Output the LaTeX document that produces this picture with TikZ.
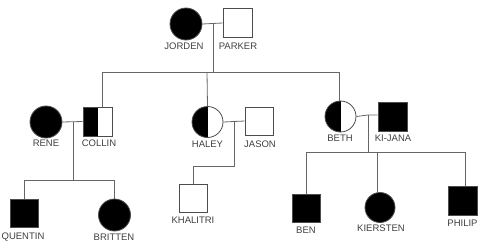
\documentclass[tikz,border=0pt]{standalone}
\usepackage{fontspec}
\setmainfont{Liberation Sans}
\begin{document}
\begin{tikzpicture}[x=1pt,y=-1pt,
  conn/.style={draw=black!60, line width=0.8pt},
  male/.style={draw=black!70, line width=0.8pt, rectangle, minimum size=#1, inner sep=0pt},
  male/.default=28pt,
  female/.style={draw=black!70, line width=0.8pt, circle, minimum size=#1, inner sep=0pt},
  female/.default=31pt,
  aff/.style={fill=black},
  half/.style={path picture={\fill[black] (path picture bounding box.south west) rectangle (path picture bounding box.north);}},
  lbl/.style={font=\fontsize{9.5}{10}\selectfont, text=black!75, inner sep=0pt}
]
\useasboundingbox (0,0) rectangle (488,249);
% generation I
\node[female=32pt, aff] (jorden) at (186,24) {};
\node[male=29pt] (parker) at (237.5,23) {};
\node[lbl] (jordenL) at (184,46) {JORDEN};
\node[lbl] (parkerL) at (238,46) {PARKER};
% generation II
\node[female=32pt, aff] (rene) at (46,122) {};
\node[male=29pt, half] (collin) at (97.5,121.5) {};
\node[female, half] (haley) at (207.5,122) {};
\node[male=28pt] (jason) at (259,121) {};
\node[female, half] (beth) at (340.5,116.5) {};
\node[male=29pt, aff] (kijana) at (392.5,116.5) {};
\node[lbl] (reneL) at (46,143) {RENE};
\node[lbl] (collinL) at (99,143) {COLLIN};
\node[lbl] (haleyL) at (207.5,144) {HALEY};
\node[lbl] (jasonL) at (260,144) {JASON};
\node[lbl] (bethL) at (340,138) {BETH};
\node[lbl] (kijanaL) at (393,138) {KI-JANA};
% generation III
\node[male=28pt, aff] (quentin) at (24,213) {};
\node[female=32pt, aff] (britten) at (114.5,215) {};
\node[male=28pt] (khalitri) at (193,198) {};
\node[male=28pt, aff] (ben) at (306,208) {};
\node[female=30pt, aff] (kiersten) at (380,207.5) {};
\node[male=29pt, aff] (philip) at (462.5,201) {};
\node[lbl] (quentinL) at (23,237) {QUENTIN};
\node[lbl] (brittenL) at (114,237) {BRITTEN};
\node[lbl] (khalitriL) at (193,220) {KHALITRI};
\node[lbl] (benL) at (306,230) {BEN};
\node[lbl] (kierstenL) at (381,228) {KIERSTEN};
\node[lbl] (philipL) at (462.5,223) {PHILIP};
% junction coordinates
\coordinate (m1) at (213,23);
\coordinate (s1) at (213,72);
\coordinate (m2) at (73,122);
\coordinate (s2) at (73,180);
\coordinate (m3) at (234,121);
\coordinate (s3) at (234,166);
\coordinate (m4) at (368,115);
\coordinate (s4) at (368,152);
% generation I connectors
\draw[conn] (jorden.east) -- (parker.west);
\draw[conn] (m1) -- (s1);
\draw[conn] (102,72) -- (339,72);
\draw[conn] (102,72) -- ([xshift=4.5pt]collin.north);
\draw[conn] (207,72) -- (haley.north);
\draw[conn] (339,72) -- ([xshift=-1.5pt]beth.north);
% Rene + Collin
\draw[conn] (rene.east) -- (collin.west);
\draw[conn] (m2) -- (s2);
\draw[conn] (24,180) -- (114.5,180);
\draw[conn] (24,180) -- (quentin.north);
\draw[conn] (114.5,180) -- (britten.north);
% Haley + Jason
\draw[conn] (haley.east) -- (jason.west);
\draw[conn] (m3) -- (s3) -- (193,166) -- (khalitri.north);
% Beth + Ki-Jana
\draw[conn] (beth.east) -- (m4) -- (kijana.west |- m4);
\draw[conn] (m4) -- (s4);
\draw[conn] (306,152) -- (465,152);
\draw[conn] (306,152) -- (ben.north);
\draw[conn] (377,152) -- ([xshift=-3pt]kiersten.north);
\draw[conn] (465,152) -- ([xshift=2.5pt]philip.north);
\end{tikzpicture}
\end{document}
